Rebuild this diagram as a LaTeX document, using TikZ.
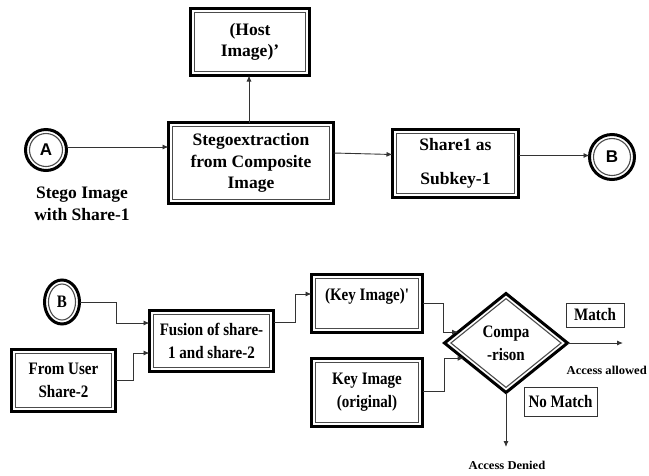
\documentclass[tikz,border=0pt]{standalone}
\usepackage{fontspec}
\setmainfont{Liberation Serif}
\newfontfamily\narrowserif[FakeStretch=0.86]{Liberation Serif}
\newfontfamily\wideserif[FakeStretch=1.05]{Liberation Serif}
\newfontfamily\sansbold{Liberation Sans}
\usetikzlibrary{arrows.meta,shapes.geometric,calc}

% inner thin line of a double-framed rectangle
\newcommand\innerframe[1]{\draw[innerline] ([shift={(4,4)}]#1.north west) rectangle ([shift={(-4,-4)}]#1.south east);}

\begin{document}
\begin{tikzpicture}[x=1pt,y=-1pt,
  frame/.style={draw=black, line width=3pt, inner sep=0pt, outer sep=0pt, align=center},
  toptext/.style={font=\fontsize{17.5}{21.5}\selectfont\bfseries},
  lowtext/.style={font=\narrowserif\fontsize{17.5}{23}\selectfont\bfseries},
  lettertext/.style={font=\sansbold\fontsize{17}{17}\selectfont\bfseries},
  innerline/.style={draw=black!70, line width=1.1pt},
  conn/.style={draw=black!80, line width=0.9pt, -{Latex[length=6pt,width=5pt]}},
  thinbox/.style={draw=black!80, line width=0.8pt, inner sep=0pt, outer sep=0pt, align=center},
  smalltext/.style={font=\wideserif\fontsize{12}{13}\selectfont\bfseries, inner sep=0pt}
]
\useasboundingbox (0,0) rectangle (649,475);

% ---------- upper chain ----------
\node[frame, circle, minimum size=41pt, lettertext] (A) at (46,150) {A};
\draw[innerline] (A.center) circle [radius=16.5pt];

\node[toptext, align=center] (stegolbl) at (82,204) {Stego Image\\with Share-1};

\node[frame, rectangle, minimum width=165pt, minimum height=81pt, toptext] (stego) at (251,163)
  {Stegoextraction\\from Composite\\Image};
\innerframe{stego}

\node[frame, rectangle, minimum width=119pt, minimum height=67pt, toptext] (host) at (250,42)
  {(Host\\Image)'};
\innerframe{host}

\node[frame, rectangle, minimum width=126pt, minimum height=68pt, toptext] (share) at (455.5,163.5)
  {Share1 as\\[12pt]Subkey-1};
\innerframe{share}

\node[frame, circle, minimum size=45pt, lettertext] (B) at (612,157) {B};
\draw[innerline] (B.center) circle [radius=18.5pt];

\draw[conn] ([yshift=3pt]A.east) -- ([yshift=3pt]A.east -| stego.west);
\draw[conn] ([xshift=-2pt]stego.north) -- ([xshift=-2pt]stego.north |- host.south);
\draw[conn] ([yshift=10pt]stego.east) -- ([yshift=9pt]share.west);
\draw[conn] ([yshift=8pt]share.east) -- ([yshift=8pt]share.east -| B.west);

% ---------- lower chain ----------
\node[frame, ellipse, minimum width=35pt, minimum height=44pt, lowtext] (B2) at (62,302) {B};
\draw[innerline] (B2.center) ellipse [x radius=13.5pt, y radius=18pt];

\node[frame, rectangle, minimum width=104pt, minimum height=62pt, lowtext] (user) at (63.5,380.5)
  {From User\\Share-2};
\innerframe{user}

\node[frame, rectangle, minimum width=124pt, minimum height=61pt, lowtext] (fus) at (211.5,341)
  {Fusion of share-\\1 and share-2};
\innerframe{fus}

\node[frame, rectangle, minimum width=111pt, minimum height=58pt, lowtext] (key1) at (367,303.5)
  {\raisebox{3pt}[0pt][0pt]{(Key Image)'}};
\innerframe{key1}

\node[frame, rectangle, minimum width=111pt, minimum height=68pt, lowtext] (key2) at (367,392.5)
  {Key Image\\(original)};
\innerframe{key2}

\node[frame, diamond, minimum width=123pt, minimum height=99pt, lowtext] (cmp) at (506,343)
  {Compa\\-rison};
\draw[innerline] ($(cmp.north)+(0,5.1)$) -- ($(cmp.east)+(-6.4,0)$)
  -- ($(cmp.south)+(0,-5.1)$) -- ($(cmp.west)+(6.4,0)$) -- cycle;

\node[thinbox, minimum width=58pt, minimum height=24pt, lowtext] (match) at (595,315) {Match};
\node[thinbox, minimum width=73pt, minimum height=29pt, lowtext] (nomatch) at (560.5,401.5) {No Match};

\node[smalltext, anchor=east] (allowlbl) at (647,370) {Access allowed};
\node[smalltext] (denylbl) at (507,465) {Access Denied};

\coordinate (in1) at ($(cmp.west)!0.22!(cmp.north)$);
\coordinate (in2) at ($(cmp.west)!0.31!(cmp.south)$);
\coordinate (allow) at (623,343);
\coordinate (deny) at (506,447);

\draw[conn] (B2.east) -| ([xshift=-33.5pt,yshift=18pt]fus.west) -- ([yshift=18pt]fus.west);
\draw[conn] (user.east) -| ([xshift=-16.5pt,yshift=-12pt]fus.west) -- ([yshift=-12pt]fus.west);
\draw[conn] ([yshift=19pt]fus.east) -| ([xshift=-16.5pt,yshift=9.5pt]key1.west) -- ([yshift=9.5pt]key1.west);
\draw[conn] (key1.east) -| ([xshift=-15pt]in1) -- (in1);
\draw[conn] ([yshift=1.5pt]key2.east) -| ([xshift=-19.5pt]in2) -- (in2);
\draw[conn] (cmp.east) -- (allow);
\draw[conn] (cmp.south) -- (deny);
\end{tikzpicture}
\end{document}
